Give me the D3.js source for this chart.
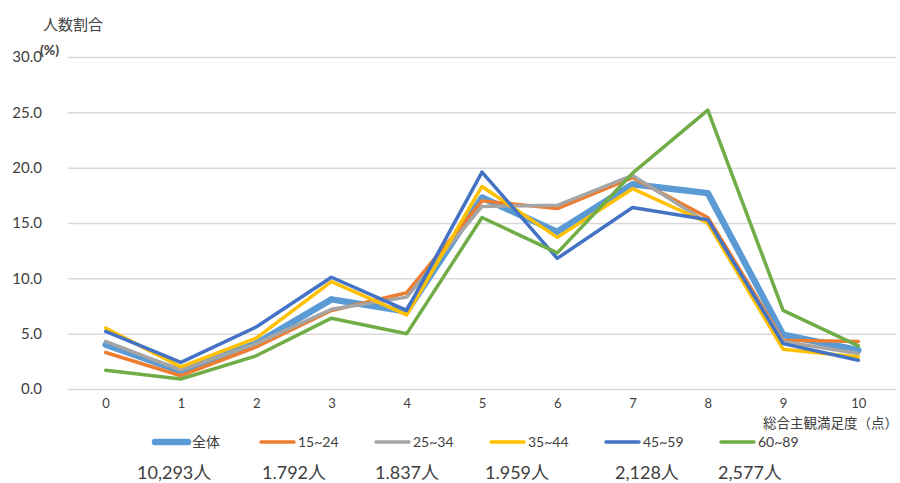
<!DOCTYPE html>
<html lang="ja">
<head>
<meta charset="utf-8">
<script src="https://cdn.jsdelivr.net/npm/d3@7"></script>
<style>
  html, body { margin: 0; padding: 0; background: #fff; }
  svg { display: block; }
  text { font-family: Lato, "Noto Sans CJK JP", sans-serif; fill: #404040; }
  .jp { font-family: "Noto Sans CJK JP", sans-serif; }
</style>
</head>
<body>
<svg id="chart" width="900" height="483"></svg>
<script>
// Satisfaction score (0-10) and share of respondents per age group (%)
const scores = ["0", "1", "2", "3", "4", "5", "6", "7", "8", "9", "10"];
const seriesNames = ["全体", "15~24", "25~34", "35~44", "45~59", "60~89"];
const allAges  = [4.0, 1.6, 4.1, 8.1, 7.0, 17.3, 14.2, 18.5, 17.7, 4.9, 3.5];
const age15_24 = [3.3, 1.2, 3.8, 7.1, 8.7, 17.0, 16.3, 19.1, 15.5, 4.4, 4.3];
const age25_34 = [4.3, 1.7, 4.1, 7.2, 8.3, 16.5, 16.6, 19.3, 15.0, 4.3, 3.2];
const age35_44 = [5.5, 2.0, 4.6, 9.7, 6.7, 18.3, 13.7, 18.1, 15.0, 3.6, 2.9];
const age45_59 = [5.2, 2.4, 5.6, 10.1, 7.1, 19.6, 11.8, 16.4, 15.3, 4.1, 2.6];
const age60_89 = [1.7, 0.9, 3.0, 6.4, 5.0, 15.5, 12.3, 19.5, 25.2, 7.1, 3.9];
const respondents = ["10,293人", "1.792人", "1.837人", "1.959人", "2,128人", "2,577人"];
const yTicks = [0, 5, 10, 15, 20, 25, 30];

const seriesValues = [allAges, age15_24, age25_34, age35_44, age45_59, age60_89];
const colors = ["#5B9BD5", "#ED7D31", "#A5A5A5", "#FFC000", "#4472C4", "#70AD47"];
const widths = [6.5, 3.5, 3.5, 3.5, 3.5, 3.5];

// Layout
const plot = { left: 68, right: 896, top: 57, bottom: 389 };
const legendX = [152, 258, 373, 488, 603, 718];
const legendY = 442;
const countX = [137, 262, 375, 485, 615, 718];
const countY = 479;

const svg = d3.select("#chart");

const x = d3.scalePoint().domain(scores).range([plot.left, plot.right]).padding(0.5);
const y = d3.scaleLinear().domain([0, 30]).range([plot.bottom, plot.top]);

// Horizontal gridlines with value labels
const yAxis = svg.append("g")
  .attr("transform", `translate(${plot.left},0)`)
  .call(d3.axisLeft(y)
    .tickValues(yTicks)
    .tickFormat(d3.format(".1f"))
    .tickSize(-(plot.right - plot.left))
    .tickPadding(26));
yAxis.select(".domain").remove();
yAxis.selectAll(".tick line").attr("stroke", "#d9d9d9").attr("stroke-width", 1.5);
yAxis.selectAll(".tick text").attr("font-size", 15).attr("fill", "#595959")
  .attr("font-family", "Lato, sans-serif");

// Category labels
const xAxis = svg.append("g")
  .attr("transform", `translate(0,${plot.bottom})`)
  .call(d3.axisBottom(x).tickSize(0).tickPadding(10));
xAxis.select(".domain").remove();
xAxis.selectAll(".tick text").attr("font-size", 13).attr("fill", "#595959")
  .attr("font-family", "Lato, sans-serif");

// Axis titles
svg.append("text").attr("class", "jp")
  .attr("x", 43).attr("y", 30).attr("font-size", 15).attr("fill", "#404040")
  .text("人数割合");
svg.append("text")
  .attr("x", 40).attr("y", 55).attr("font-size", 14).attr("fill", "#404040")
  .attr("font-weight", "bold")
  .text("(%)");
svg.append("text").attr("class", "jp")
  .attr("x", 898).attr("y", 428).attr("text-anchor", "end")
  .attr("font-size", 13.5).attr("fill", "#404040")
  .text("総合主観満足度（点）");

// Lines
const line = d3.line()
  .x((d, i) => x(scores[i]))
  .y(d => y(d));

svg.append("g").selectAll("path")
  .data(seriesValues)
  .join("path")
  .attr("d", d => line(d))
  .attr("fill", "none")
  .attr("stroke", (d, i) => colors[i])
  .attr("stroke-width", (d, i) => widths[i])
  .attr("stroke-linejoin", "round")
  .attr("stroke-linecap", "round");

// Legend
const legend = svg.append("g").selectAll("g")
  .data(seriesNames)
  .join("g")
  .attr("transform", (d, i) => `translate(${legendX[i]},${legendY})`);
legend.append("line")
  .attr("x1", 3).attr("x2", 36).attr("y1", 0).attr("y2", 0)
  .attr("stroke", (d, i) => colors[i])
  .attr("stroke-width", (d, i) => widths[i])
  .attr("stroke-linecap", "round");
legend.append("text")
  .attr("x", 40).attr("y", 5)
  .attr("font-size", 14).attr("fill", "#595959")
  .text(d => d);

// Respondent counts per group
svg.append("g").selectAll("text")
  .data(respondents)
  .join("text")
  .attr("x", (d, i) => countX[i])
  .attr("y", countY)
  .attr("font-size", 18).attr("fill", "#000")
  .text(d => d);
</script>
</body>
</html>
